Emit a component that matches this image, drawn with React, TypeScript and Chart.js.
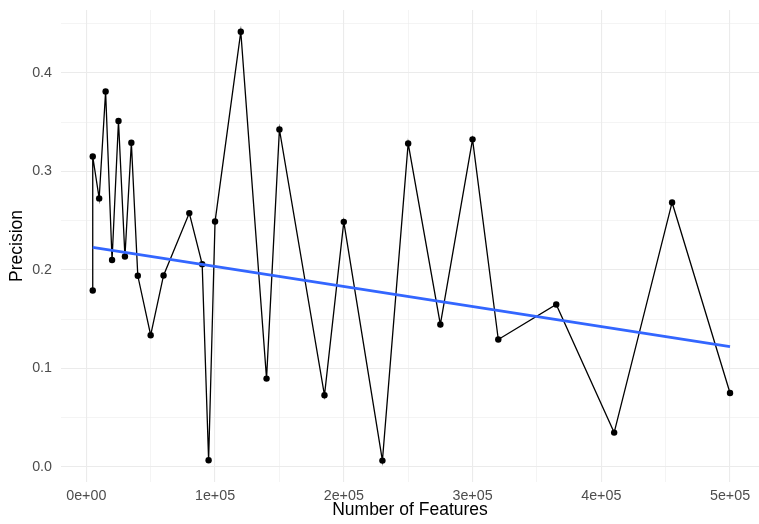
import React, { useEffect, useRef } from "react";
import { Chart, registerables } from "chart.js";

Chart.register(...registerables);

// Precision measured at each feature-set size, in run order.
const features = [
  5000, 5000, 10000, 15000, 20000, 25000, 30000, 35000, 40000, 50000, 60000,
  80000, 90000, 95000, 100000, 120000, 140000, 150000, 185000, 200000, 230000,
  250000, 275000, 300000, 320000, 365000, 410000, 455000, 500000,
];
const precision = [
  0.179, 0.315, 0.2725, 0.381, 0.21, 0.351, 0.2136, 0.329, 0.194, 0.1337,
  0.1943, 0.2576, 0.2058, 0.0068, 0.249, 0.4416, 0.0897, 0.3425, 0.0728,
  0.2487, 0.0065, 0.3283, 0.1446, 0.3324, 0.1293, 0.1649, 0.0349, 0.2684,
  0.0751,
];

// Linear trend endpoints.
const trendFeatures = [5000, 500000];
const trendPrecision = [0.2227, 0.1222];

// Grid positions: labelled (major) and unlabelled (minor) lines.
const xTickValues = [
  0, 50000, 100000, 150000, 200000, 250000, 300000, 350000, 400000, 450000,
  500000,
];
const yTickValues = [0, 0.05, 0.1, 0.15, 0.2, 0.25, 0.3, 0.35, 0.4, 0.45];

const FONT = '"Liberation Sans", Arial, Helvetica, sans-serif';
const GRID = "#EBEBEB";
const TICK_TEXT = "#4D4D4D";
const TICK_SIZE = 14.3;
const TITLE_SIZE = 17.5;

const isMajorX = (v: number) => Math.abs(v % 100000) < 1e-6;
const isMajorY = (v: number) => Math.abs(Math.round(v * 10) - v * 10) < 1e-6;

function sciLabel(v: number): string {
  if (v === 0) return "0e+00";
  const e = Math.floor(Math.log10(Math.abs(v)));
  const m = v / Math.pow(10, e);
  const sign = e < 0 ? "-" : "+";
  return `${m}e${sign}${String(Math.abs(e)).padStart(2, "0")}`;
}

// Keep the plotting panel exactly where the layout puts it.
const noScalePadding = (s: any) => {
  s.paddingTop = 0;
  s.paddingBottom = 0;
  s.paddingLeft = 0;
  s.paddingRight = 0;
};

export default function App() {
  const canvasRef = useRef<HTMLCanvasElement | null>(null);

  useEffect(() => {
    const canvas = canvasRef.current;
    if (!canvas) return;

    const points = features.map((x, i) => ({ x, y: precision[i] }));
    const trend = trendFeatures.map((x, i) => ({ x, y: trendPrecision[i] }));

    const chart = new Chart(canvas, {
      type: "scatter",
      data: {
        datasets: [
          {
            label: "trend",
            data: trend,
            showLine: true,
            borderColor: "#3366FF",
            borderWidth: 2.8,
            pointRadius: 0,
            order: 0,
          },
          {
            label: "precision",
            data: points,
            showLine: true,
            borderColor: "#000000",
            borderWidth: 1.3,
            pointRadius: 3.2,
            pointBackgroundColor: "#000000",
            pointBorderWidth: 0,
            order: 1,
          },
        ],
      },
      options: {
        animation: false,
        responsive: false,
        maintainAspectRatio: false,
        layout: {
          autoPadding: false,
          padding: { top: 10, left: 0, right: 0, bottom: 0 },
        },
        plugins: {
          legend: { display: false },
          tooltip: { enabled: false },
        },
        scales: {
          x: {
            type: "linear",
            min: -19650,
            max: 522500,
            afterBuildTicks: (s: any) => {
              s.ticks = xTickValues.map((value) => ({ value }));
            },
            afterFit: (s: any) => {
              s.height = 42;
              noScalePadding(s);
            },
            border: { display: false },
            grid: {
              color: GRID,
              drawTicks: false,
              lineWidth: (ctx: any) =>
                ctx.tick && isMajorX(ctx.tick.value) ? 1.1 : 0.55,
            },
            ticks: {
              autoSkip: false,
              maxRotation: 0,
              padding: 5.5,
              color: TICK_TEXT,
              font: { family: FONT, size: TICK_SIZE },
              callback: (v: any) =>
                isMajorX(Number(v)) ? sciLabel(Number(v)) : "",
            },
            title: {
              display: true,
              text: "Number of Features",
              color: "#000000",
              font: { family: FONT, size: TITLE_SIZE },
              padding: { top: 0, bottom: 3 },
            },
          },
          y: {
            type: "linear",
            min: -0.01523,
            max: 0.46365,
            afterBuildTicks: (s: any) => {
              s.ticks = yTickValues.map((value) => ({ value }));
            },
            afterFit: (s: any) => {
              s.width = 61;
              noScalePadding(s);
            },
            border: { display: false },
            grid: {
              color: GRID,
              drawTicks: false,
              lineWidth: (ctx: any) =>
                ctx.tick && isMajorY(ctx.tick.value) ? 1.1 : 0.55,
            },
            ticks: {
              autoSkip: false,
              padding: 9,
              color: TICK_TEXT,
              font: { family: FONT, size: TICK_SIZE },
              callback: (v: any) =>
                isMajorY(Number(v)) ? Number(v).toFixed(1) : "",
            },
            title: {
              display: true,
              text: "Precision",
              color: "#000000",
              font: { family: FONT, size: TITLE_SIZE },
              padding: { top: 7, bottom: 0 },
            },
          },
        },
      },
    });

    return () => {
      chart.destroy();
    };
  }, []);

  return (
    <div
      style={{
        position: "fixed",
        left: 0,
        top: 0,
        width: 759,
        height: 524,
        overflow: "hidden",
        background: "#FFFFFF",
      }}
    >
      <canvas
        ref={canvasRef}
        width={759}
        height={524}
        style={{ display: "block", width: 759, height: 524 }}
      />
    </div>
  );
}
